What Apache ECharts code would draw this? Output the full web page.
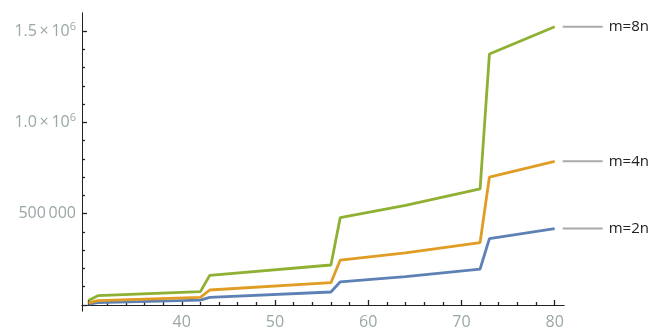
<!DOCTYPE html>
<html>
<head>
<meta charset="utf-8">
<script src="https://cdn.jsdelivr.net/npm/echarts@6/dist/echarts.min.js"></script>
<style>
  html, body { margin: 0; padding: 0; background: #fff; }
  #chart { width: 651px; height: 331px; }
</style>
</head>
<body>
<div id="chart"></div>
<script>
  // x positions where the curves bend
  var xs = [30, 31, 42, 43, 56, 57, 64, 72, 73, 80];
  var m2 = [5000, 12500, 27000, 42000, 71000, 127000, 155000, 197000, 364000, 419000];
  var m4 = [11000, 23500, 42000, 82000, 122000, 246000, 286000, 342000, 701000, 787000];
  var m8 = [25000, 51000, 73000, 162000, 219000, 479000, 546000, 636000, 1375000, 1525000];
  var names = ['m=2n', 'm=4n', 'm=8n'];
  var colors = ['#5e81b5', '#e19c24', '#8fb032'];

  var xMajor = [30, 40, 50, 60, 70, 80];
  var xMinor = [32, 34, 36, 38, 42, 44, 46, 48, 52, 54, 56, 58, 62, 64, 66, 68, 72, 74, 76, 78];
  var xLabelValues = [40, 50, 60, 70, 80];
  var yMajor = [0, 500000, 1000000, 1500000];
  var yMinor = [100000, 200000, 300000, 400000, 600000, 700000, 800000, 900000,
                1100000, 1200000, 1300000, 1400000];
  var yLabelValues = [500000, 1000000, 1500000];
  var yLabels = {
    500000: '{n|500\u2009000}',
    1000000: '{n|1.0\u2009×\u200910}{s|6}',
    1500000: '{n|1.5\u2009×\u200910}{s|6}'
  };

  var labelColor = '#9aa7a7';
  var axisColor = '#222';

  var toPairs = function (ys) {
    return xs.map(function (x, i) { return [x, ys[i]]; });
  };

  var chart = echarts.init(document.getElementById('chart'));

  // x axis sits at y = 0, a few px above the bottom of the grid
  var xAxisBase = function (values, len, showLabel) {
    return {
      type: 'value', gridIndex: 0, position: 'bottom', offset: -6, min: 29.3, max: 81,
      splitLine: { show: false },
      axisLine: { show: true, onZero: false, lineStyle: { color: axisColor, width: 1 } },
      axisTick: { show: true, inside: true, length: len, customValues: values, lineStyle: { color: axisColor, width: 1.3 } },
      axisLabel: {
        show: true, customValues: xLabelValues, margin: 9,
        formatter: function (v) { return showLabel ? String(v) : ''; },
        color: labelColor, fontSize: 16, fontFamily: 'Open Sans'
      }
    };
  };

  var yAxisBase = function (values, len, showLabel) {
    return {
      type: 'value', gridIndex: 0, position: 'left', min: -33000, max: 1600000,
      splitLine: { show: false },
      axisLine: { show: true, onZero: false, lineStyle: { color: axisColor, width: 1 } },
      axisTick: { show: true, inside: true, length: len, customValues: values, lineStyle: { color: axisColor, width: 1.3 } },
      axisLabel: {
        show: true, customValues: yLabelValues, margin: 6,
        formatter: function (v) { return showLabel ? (yLabels[v] || '') : ''; },
        rich: {
          n: { color: labelColor, fontSize: 16, fontFamily: 'Open Sans' },
          s: { color: labelColor, fontSize: 11, fontFamily: 'Open Sans', padding: [0, 0, 9, 0] }
        }
      }
    };
  };

  var option = {
    animation: false,
    backgroundColor: '#fff',
    grid: { left: 82, right: 87, top: 13, bottom: 20, containLabel: false },
    xAxis: [xAxisBase(xMinor, 3, false), xAxisBase(xMajor, 5, true)],
    yAxis: [yAxisBase(yMinor, 3, false), yAxisBase(yMajor, 5, true)],
    series: [m2, m4, m8].map(function (ys, i) {
      return {
        name: names[i],
        type: 'line',
        xAxisIndex: 0,
        yAxisIndex: 0,
        data: toPairs(ys),
        showSymbol: false,
        symbol: 'none',
        clip: false,
        lineStyle: { color: colors[i], width: 2.8 },
        endLabel: {
          show: true,
          distance: 8,
          formatter: '{l|}{t|' + names[i] + '}',
          rich: {
            l: { width: 40, height: 2, backgroundColor: '#aaaaaa' },
            t: { color: '#222', fontSize: 15, fontFamily: 'Open Sans', padding: [0, 0, 0, 6] }
          }
        }
      };
    })
  };

  chart.setOption(option);
</script>
</body>
</html>
